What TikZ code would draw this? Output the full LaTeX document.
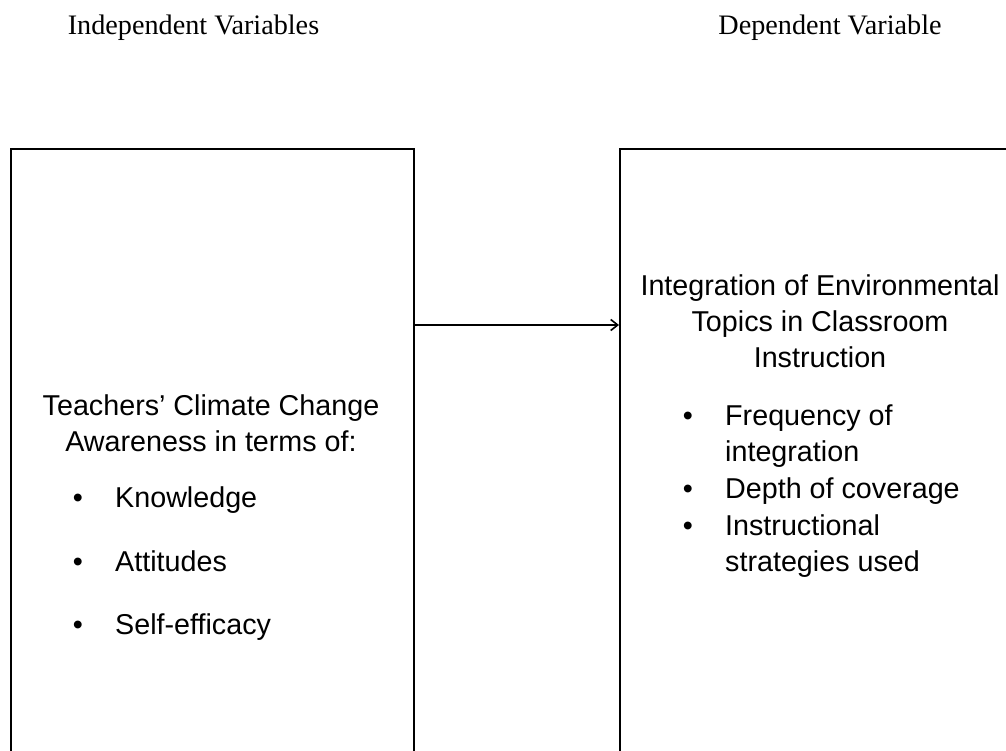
\documentclass[tikz,border=0pt]{standalone}
\usepackage{fontspec}
\setmainfont{Liberation Serif}
\newfontfamily\arialfont{Liberation Sans}
\usetikzlibrary{arrows.meta}

\begin{document}
\begin{tikzpicture}[x=1pt,y=1pt,
  frame/.style={draw=black, line width=1.6pt, rectangle, anchor=north west,
    minimum width=403pt, minimum height=700pt, inner sep=0pt},
  header/.style={anchor=base, inner sep=0pt, font=\fontsize{28.2}{32}\selectfont},
  body/.style={inner sep=0pt, font=\arialfont\fontsize{28.7}{36.5}\selectfont},
  textline/.style={body, anchor=base},
  bul/.style={body, anchor=base},
  item/.style={body, anchor=base west},
  connector/.style={draw=black, line width=1.2pt,
    -{Straight Barb[length=7pt,width=11pt,line width=1.6pt]}}
]
% the page runs from y=0 down to y=-751
\useasboundingbox (0,0) rectangle (1006,-751);
\fill[white] (0,0) rectangle (1006,-751);

% column headings
\node[header] (hind) at (193.5,-35) {Independent Variables};
\node[header] (hdep) at (830,-35) {Dependent Variable};

\begin{scope}
\clip (0,0) rectangle (1006,-751);
% the two variable boxes (they run past the page edges)
\node[frame] (lbox) at (10,-148) {};
\node[frame] (rbox) at (619,-148) {};
\end{scope}

% connector between the boxes
\coordinate (ay) at (0,-325);
\draw[connector] (lbox.east |- ay) -- (rbox.west |- ay);

% independent variables
\node[textline] (lt1) at (211,-415) {Teachers’ Climate Change};
\node[textline] (lt2) at (211,-451) {Awareness in terms of:};
\node[bul] (lb1) at (78,-507) {•};
\node[item] (li1) at (115,-507) {Knowledge};
\node[bul] (lb2) at (78,-571) {•};
\node[item] (li2) at (115,-571) {Attitudes};
\node[bul] (lb3) at (78,-634) {•};
\node[item] (li3) at (115,-634) {Self-efficacy};

% dependent variable
\node[textline] (rt1) at (820,-295) {Integration of Environmental};
\node[textline] (rt2) at (820,-331) {Topics in Classroom};
\node[textline] (rt3) at (820,-367) {Instruction};
\node[bul] (rb1) at (688,-425) {•};
\node[item] (ri1a) at (725,-425) {Frequency of};
\node[item] (ri1b) at (725,-461.5) {integration};
\node[bul] (rb2) at (688,-498.5) {•};
\node[item] (ri2) at (725,-498.5) {Depth of coverage};
\node[bul] (rb3) at (688,-535) {•};
\node[item] (ri3a) at (725,-535) {Instructional};
\node[item] (ri3b) at (725,-571.5) {strategies used};
\end{tikzpicture}
\end{document}
